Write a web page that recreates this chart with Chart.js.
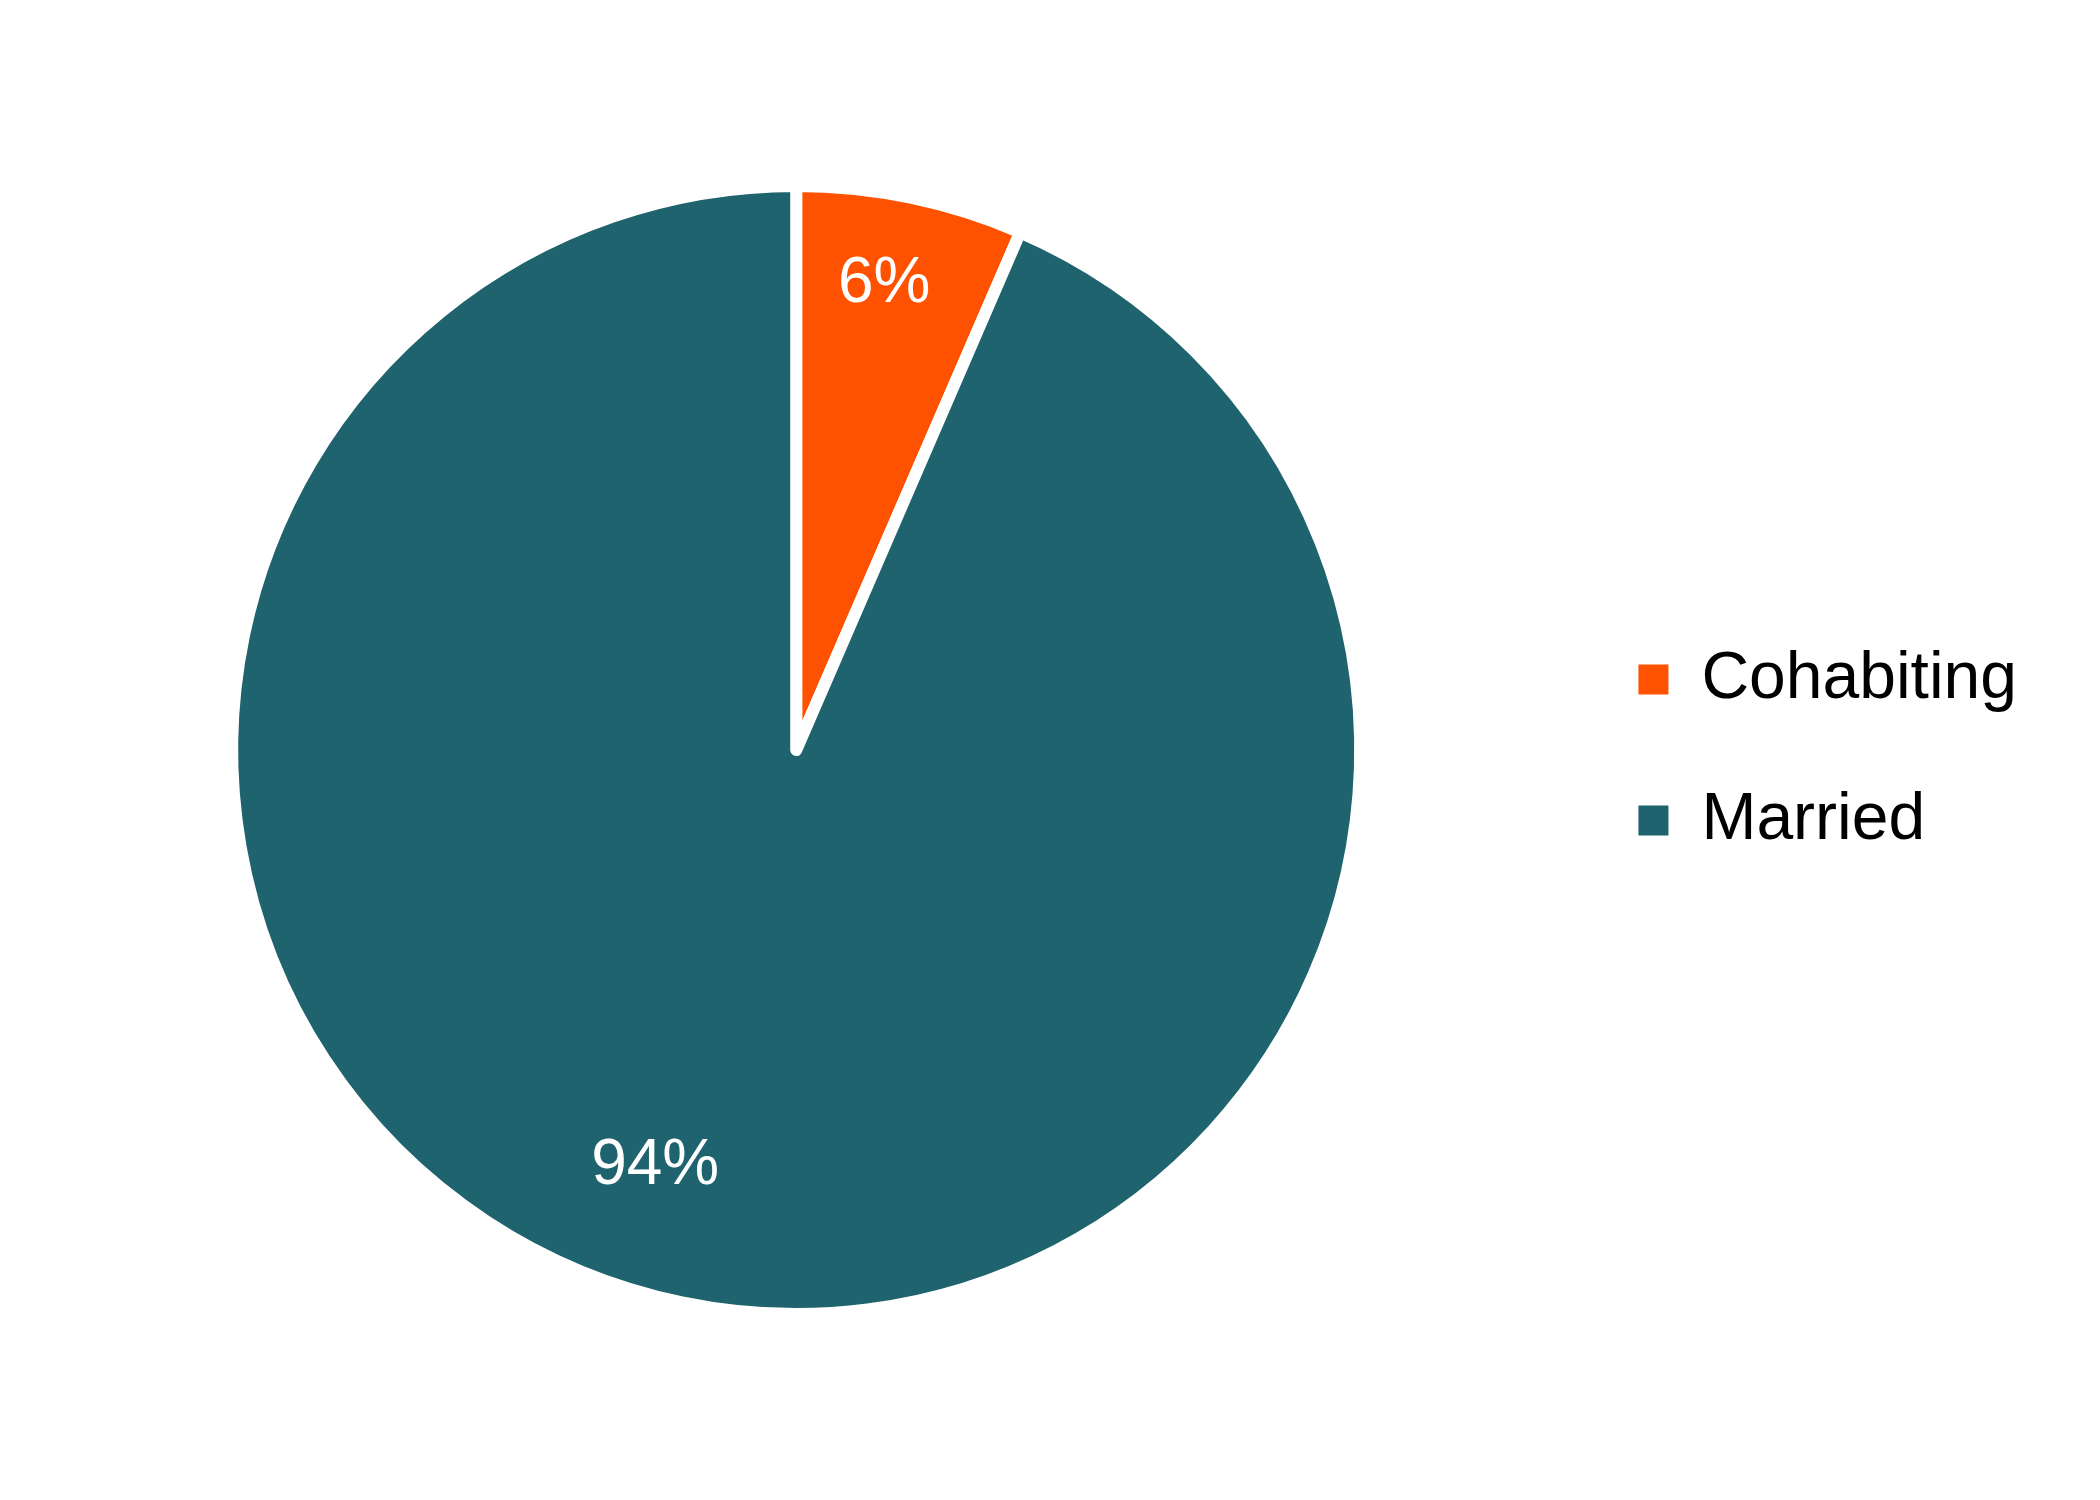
<!DOCTYPE html>
<html>
<head>
<meta charset="utf-8">
<script src="https://cdn.jsdelivr.net/npm/chart.js@4/dist/chart.umd.min.js"></script>
<style>
  html, body { margin: 0; padding: 0; background: #fff; }
  #wrap { width: 2100px; height: 1500px; }
</style>
</head>
<body>
<div id="wrap"><canvas id="pie"></canvas></div>
<script>
const categories = ['Cohabiting', 'Married'];
const shares = [6.5, 93.5];
const shareLabels = ['6%', '94%'];
const sliceColors = ['#FF5200', '#1E636D'];

// where each % label sits: fraction of radius, and angle shift (deg) from slice middle
const labelRadius = [0.84, 0.78];
const labelShift = [-1, 7];

const sliceLabels = {
  id: 'sliceLabels',
  afterDatasetsDraw(chart) {
    const ctx = chart.ctx;
    const arcs = chart.getDatasetMeta(0).data;
    ctx.save();
    ctx.fillStyle = '#ffffff';
    ctx.font = '64px "Liberation Sans", Arial, sans-serif';
    ctx.textAlign = 'center';
    ctx.textBaseline = 'middle';
    arcs.forEach((arc, i) => {
      const p = arc.getProps(['x', 'y', 'startAngle', 'endAngle', 'outerRadius'], true);
      const a = (p.startAngle + p.endAngle) / 2 + labelShift[i] * Math.PI / 180;
      const r = p.outerRadius * labelRadius[i];
      ctx.fillText(shareLabels[i], p.x + Math.cos(a) * r, p.y + Math.sin(a) * r);
    });
    ctx.restore();
  }
};

new Chart(document.getElementById('pie'), {
  type: 'pie',
  data: {
    labels: categories,
    datasets: [{
      data: shares,
      backgroundColor: sliceColors,
      borderColor: '#ffffff',
      borderWidth: 12,
      borderJoinStyle: 'round'
    }]
  },
  options: {
    responsive: true,
    maintainAspectRatio: false,
    animation: false,
    layout: { padding: { top: 180, bottom: 180, left: 29, right: 73 } },
    plugins: {
      tooltip: { enabled: false },
      legend: {
        position: 'right',
        labels: {
          boxWidth: 30,
          boxHeight: 30,
          padding: 75,
          color: '#000000',
          font: { family: '"Liberation Sans", Arial, sans-serif', size: 66 },
          generateLabels(chart) {
            const items = Chart.overrides.pie.plugins.legend.labels.generateLabels(chart);
            items.forEach(it => { it.lineWidth = 0; it.strokeStyle = it.fillStyle; });
            return items;
          }
        }
      }
    }
  },
  plugins: [sliceLabels]
});
</script>
</body>
</html>
